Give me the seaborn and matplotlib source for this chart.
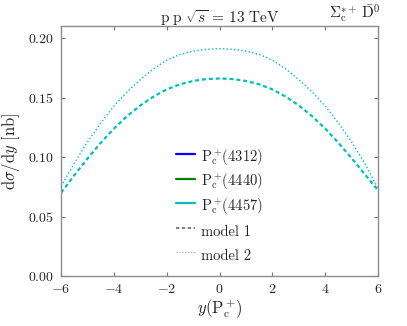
import pandas as pd
import seaborn as sns
import matplotlib.pyplot as plt
from matplotlib.lines import Line2D

# rapidity grid and d sigma / dy [nb] for the P_c(4457) curves
rapidity = [-6, -5.5, -5, -4.5, -4, -3.5, -3, -2.5, -2, -1.5, -1, -0.5, 0,
            0.5, 1, 1.5, 2, 2.5, 3, 3.5, 4, 4.5, 5, 5.5, 6]
model1 = [0.0700, 0.0847, 0.0987, 0.1119, 0.1239, 0.1344, 0.1433, 0.1508,
          0.1568, 0.1611, 0.1639, 0.1655, 0.1660, 0.1655, 0.1639, 0.1611,
          0.1568, 0.1508, 0.1433, 0.1344, 0.1239, 0.1119, 0.0990, 0.0855,
          0.0720]
model2 = [0.0754, 0.0949, 0.1126, 0.1285, 0.1428, 0.1548, 0.1650, 0.1741,
          0.1814, 0.1862, 0.1890, 0.1905, 0.1910, 0.1905, 0.1890, 0.1862,
          0.1814, 0.1741, 0.1650, 0.1548, 0.1428, 0.1285, 0.1126, 0.0945,
          0.0735]
states = ["4312", "4440", "4457"]
state_colors = ["#0000ff", "#008000", "#00bfbf"]
yticks = [0.00, 0.05, 0.10, 0.15, 0.20]

sns.set_theme(style="ticks")
plt.rcParams["font.family"] = "serif"
plt.rcParams["font.serif"] = ["cmr10"]
plt.rcParams["mathtext.fontset"] = "cm"
plt.rcParams["axes.formatter.use_mathtext"] = True

df = pd.DataFrame({"y": rapidity, "model 1": model1, "model 2": model2})

fig = plt.figure(figsize=(4.07, 3.26), dpi=100)
ax = fig.add_axes([0.150, 0.153, 0.779, 0.767])

sns.lineplot(data=df, x="y", y="model 1", ax=ax, color="#00bfbf", lw=1.6)
ax.lines[-1].set_dashes((1.8, 1.3))
sns.lineplot(data=df, x="y", y="model 2", ax=ax, color="#00bfbf", lw=1.0)
ax.lines[-1].set_linestyle(":")

ax.set_xlim(-6, 6)
ax.set_ylim(0, 0.21)
ax.set_yticks(yticks)
ax.set_yticklabels([f"${v:.2f}$" for v in yticks])
ax.set_xticks([-6, -4, -2, 0, 2, 4, 6])
ax.tick_params(direction="in", top=True, right=True, length=3, width=0.8,
               color="0.45", labelsize=10, pad=5)
for sp in ax.spines.values():
    sp.set_color("0.55")
    sp.set_linewidth(1.0)

ax.set_xlabel(r"$y(\mathrm{P_c^+}\!)$", fontsize=12, labelpad=1)
ax.set_ylabel(r"$\mathrm{d}\sigma/\mathrm{d}y\ [\mathrm{nb}]$", fontsize=12,
              labelpad=4)
ax.set_title(r"$\mathrm{p\ p}\ \sqrt{s}\, =\, 13\ \mathrm{TeV}$",
             fontsize=11, pad=2)
fig.text(0.934, 0.958, r"$\Sigma_\mathrm{c}^{*+}\,\bar{\mathrm{D}}^0$",
         ha="right", va="center", fontsize=11)

handles = [Line2D([], [], color=c, lw=1.6) for c in state_colors]
labels = [rf"$\mathrm{{P_c^+}}\!({s})$" for s in states]
handles += [Line2D([], [], color="0.4", lw=1.2, dashes=(2, 1.5)),
            Line2D([], [], color="0.6", lw=0.8, ls=":")]
labels += ["model 1", "model 2"]
ax.legend(handles, labels, loc="center", bbox_to_anchor=(0.50, 0.28),
          frameon=False, fontsize=10.5, handlelength=1.3, handletextpad=0.45,
          handleheight=1.8, labelspacing=0.25)

fig.savefig("out.png", dpi=100)
